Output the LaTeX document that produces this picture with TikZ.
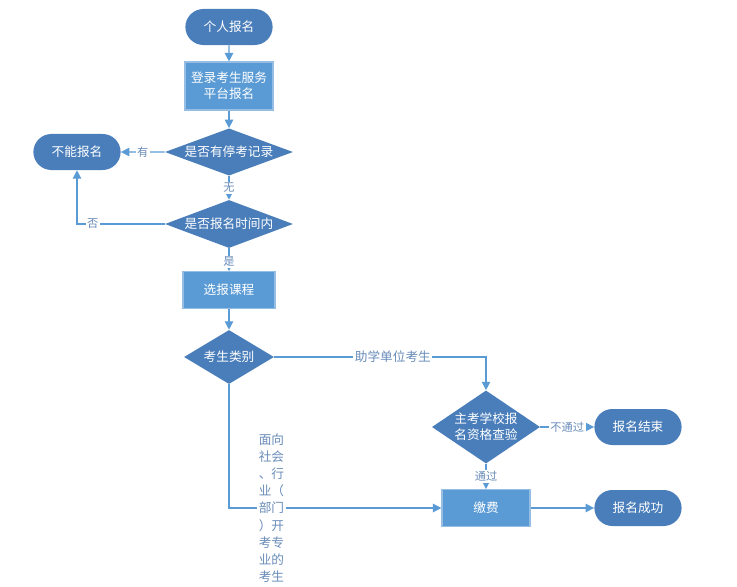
\documentclass[tikz,border=0pt]{standalone}
\usepackage{fontspec}
\setmainfont{Noto Sans CJK SC}
\usetikzlibrary{shapes.geometric,shapes.misc,arrows.meta}
\definecolor{darkblue}{RGB}{74,126,187}
\definecolor{lightblue}{RGB}{91,155,213}
\definecolor{rimblue}{RGB}{150,190,228}
\definecolor{labelblue}{RGB}{105,140,185}
\tikzset{
	terminal/.style={rounded rectangle,fill=darkblue,text=white,font=\fontsize{9}{11.5}\selectfont,minimum width=2.25cm,minimum height=0.9cm,inner sep=1pt},
	stepbox/.style={rectangle,fill=lightblue,draw=rimblue,line width=0.8pt,text=white,font=\fontsize{9}{11.5}\selectfont,minimum width=2.25cm,minimum height=0.92cm,align=center},
	check/.style={diamond,fill=darkblue,text=white,font=\fontsize{9}{11.5}\selectfont,inner sep=0.5pt,align=center},
	flow/.style={draw=lightblue,line width=0.9pt,-{Triangle[length=6pt,width=6pt]}},
	tag/.style={fill=white,text=labelblue,font=\fontsize{8}{10}\selectfont,inner sep=1pt}
}
\begin{document}
\begin{tikzpicture}[x=0.025cm,y=-0.025cm]
	\useasboundingbox (0,0) rectangle (737,586);
	% main column
	\node[terminal] (start) at (229,27) {个人报名};
	\node[stepbox,minimum height=1.2cm,minimum width=2.2cm] (login) at (229,86) {登录考生服务\\平台报名};
	\node[check,minimum width=3.2cm,minimum height=1.18cm,aspect=2.7] (record) at (229,152) {是否有停考记录};
	\node[terminal] (refuse) at (77,152) {不能报名};
	\node[check,minimum width=3.2cm,minimum height=1.2cm,aspect=2.7] (period) at (229,224) {是否报名时间内};
	\node[stepbox,minimum width=2.3cm] (course) at (229,290) {选报课程};
	\node[check,minimum width=2.25cm,minimum height=1.35cm,aspect=1.67] (kind) at (229,357) {考生类别};
	% right side
	\node[check,minimum width=2.7cm,minimum height=1.82cm,aspect=1.48] (school) at (486,427) {主考学校报\\名资格查验};
	\node[terminal] (over) at (638,427) {报名结束};
	\node[stepbox,minimum width=2.2cm] (pay) at (486,508) {缴费};
	\node[terminal] (done) at (638,508) {报名成功};
	% connectors
	\draw[flow] (start) -- (login);
	\draw[flow] (login) -- (record);
	\draw[flow] (record) -- node[tag] {有} (refuse);
	\draw[flow] (record) -- node[tag] {无} (period);
	\draw[flow] (period.west) -| node[tag,pos=0.41] {否} (refuse.south);
	\draw[flow] (period) -- node[tag,pos=0.6] {是} (course);
	\draw[flow] (course) -- (kind);
	\draw[flow] (kind.east) -| node[tag,pos=0.28,font=\fontsize{9}{11.5}\selectfont] {助学单位考生} (school.north);
	\draw[flow] (school) -- node[tag] {不通过} (over);
	\draw[flow] (school) -- node[tag] {通过} (pay);
	\draw[flow] (kind.south) |- node[tag,pos=0.6,align=center,font=\fontsize{9}{12.2}\selectfont] {面向\\社会\\、行\\业（\\部门\\）开\\考专\\业的\\考生} (pay.west);
	\draw[flow] (pay) -- (done);
\end{tikzpicture}
\end{document}
